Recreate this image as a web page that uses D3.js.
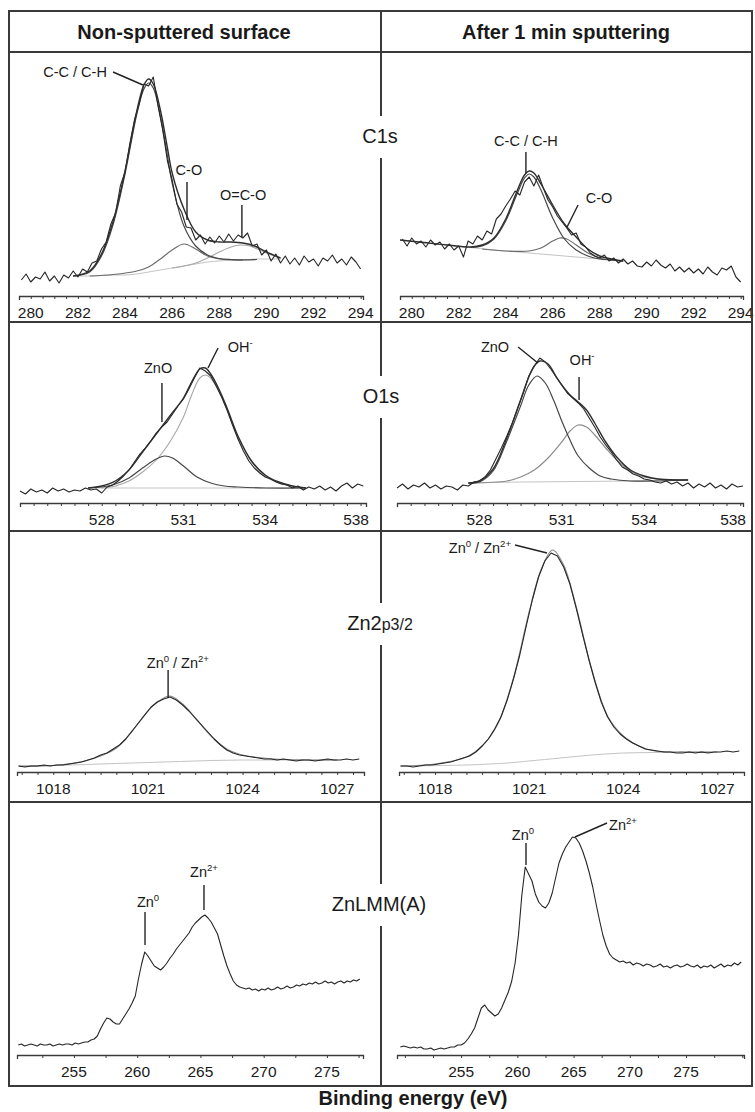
<!DOCTYPE html>
<html><head><meta charset="utf-8">
<script src="https://cdn.jsdelivr.net/npm/d3@7"></script>
<style>
body{margin:0;background:#fff}
svg{display:block}
text{font-family:"Liberation Sans",Arial,sans-serif;fill:#1a1a1a}
</style>
</head><body>
<svg id="c" width="755" height="1112"></svg>
<script>
// ================= DATA =================
// tick labels
const c1sTickLabels = [280,282,284,286,288,290,292,294];
const o1sTickLabels = [528,531,534,538];
const zn2pTickLabels = [1018,1021,1024,1027];
const lmmTickLabels = [255,260,265,270,275];

// energy grids of the measured spectra: [first energy, step] (eV)
const c1sGrid = [279.6, 0.2];
const o1sGrid = [525.0, 0.2];
const zn2pGrid = [1016.9, 0.2];
const lmmLeftGrid = [250.6, 0.25];
const lmmRightGrid = [249.6, 0.3];

// measured intensities (a.u.)
const c1sLeftRaw = [16,22,14,19,17,24,15,20,13,21, 18,25,19,27,24,33,35,47,54,72,
  83,110,124,152,176,192,212,210,219,190, 166,135,116,92,84,69,68,56,61,52,
  59,53,60,54,62,55,61,58,63,50, 52,41,46,35,42,33,40,32,38,31,
  40,34,37,30,38,35,41,33,37,31, 39,34,27];
const c1sRightRaw = [57,50,58,52,55,49,56,51,54,47, 52,46,50,39,55,52,60,56,65,62,
  77,82,90,97,105,101,114,119,110,121, 108,96,89,80,74,68,61,63,52,49,
  43,40,38,41,35,38,33,37,32,35, 30,29,34,30,36,31,28,32,25,29,
  24,28,23,27,22,29,24,21,28,26, 30,19,14];
const o1sLeftRaw = [12,9,14,11,13,10,15,12,14,11, 13,12,15,13,14,10,16,18,22,27,
  33,41,49,55,62,70,76,81,89,97, 104,114,125,135,132,127,117,106,93,78,
  64,52,42,35,30,26,24,21,19,18, 15,17,13,16,14,17,13,16,12,17, 20,15,19,17];
const o1sRightRaw = [15,19,14,18,16,20,15,18,14,17, 16,13,18,17,21,22,26,33,44,55,
  67,80,95,110,127,137,145,141,134,126, 118,110,105,100,94,85,76,66,58,51,
  43,36,33,29,27,24,23,21,20,22, 19,21,17,20,15,19,16,20,15,18, 14,19,16,17];
const zn2pLeftRaw = [6,5,6,6,7,6,7,7,8,9, 10,12,14,17,19,23,27,33,41,49,
  57,65,70,73,75,72,67,61,54,47, 40,33,27,22,19,17,16,15,14,13,
  13,12,13,12,11,12,12,11,12,13, 12,12,13,12,13];
const zn2pRightRaw = [6,6,5,6,7,7,8,9,10,12, 14,16,20,26,33,43,55,72,93,117,
  145,172,195,211,219,216,205,188,164,138, 113,90,70,55,45,38,33,29,26,23,
  22,21,20,20,19,19,20,19,20,19, 20,20,21,20,21];
const lmmLeftRaw = [10,11,9,10,11,10,9,11,10,10, 11,9,10,11,10,11,11,10,12,11,
  12,13,13,15,16,19,26,32,37,36, 33,31,31,36,41,46,52,59,76,91,
  103,99,94,89,87,85,88,92,97,101, 106,110,114,118,122,128,132,135,138,140,
  137,133,127,121,110,99,89,81,74,70, 68,67,66,67,65,66,64,66,65,67,
  65,66,68,66,67,69,67,68,70,69, 71,70,72,71,73,71,72,74,72,73,
  71,73,74,72,74,73,75,74,76];
const lmmRightRaw = [8,9,8,7,8,7,8,6,6,7, 5,6,7,6,7,8,8,10,10,12,
  16,21,27,37,47,50,45,42,39,41, 47,55,63,74,92,120,160,188,181,174,
  161,153,149,147,152,162,177,192,201,208, 213,218,217,212,204,194,182,168,151,135,
  120,109,101,97,95,93,94,92,93,90, 92,91,89,91,90,88,89,91,88,89,
  87,89,90,88,89,91,89,88,90,87, 89,88,90,87,89,91,88,90,89,92, 90,93];

// fitted curves [energy, intensity]
const c1sLeftBg = [[281.8,20],[282.5,20],[283,20.5],[283.5,21],[284,21],[284.5,22],[285,24],[285.5,26],[286,28],[286.5,30],[287,32],[287.5,34],[288,35],[288.5,36],[289,36],[289.5,37],[290,37],[290.6,37]];
const c1sLeftCC = [[281.8,20],[282.5,24],[283,40],[283.5,72],[284,122],[284.5,182],[284.8,207],[285,213],[285.2,208],[285.5,180],[285.8,140],[286,113],[286.5,70],[287,50],[287.5,41],[288,37.5],[288.5,36.5],[289,36.2],[289.6,36.5]];
const c1sLeftCO = [[282.5,20],[283.5,21.5],[284.5,25],[285,29],[285.5,37],[286,46],[286.5,52],[287,47],[287.5,40],[288,37],[288.5,36],[289,36]];
const c1sLeftOCO = [[286,28],[286.5,30],[287,33],[287.5,38],[288,44],[288.5,49],[288.9,51],[289.3,50],[289.7,46],[290.1,42],[290.6,37.5]];
const c1sLeftEnv = [[281.8,20],[282.5,25],[283,42],[283.5,75],[284,125],[284.5,185],[284.8,211],[285,217],[285.2,212],[285.5,186],[285.8,148],[286,123],[286.5,87],[287,64],[287.5,56],[288,54],[288.5,54],[289,53],[289.5,50],[290,44],[290.6,38]];

const c1sRightBg = [[279.5,56],[280.5,53.5],[281.5,51],[282.5,48.5],[283.5,46],[284.5,44],[285.5,42],[286.5,40],[287.5,38],[288.5,36],[289,35]];
const c1sRightCC = [[282.5,48.5],[283,50],[283.5,57],[284,75],[284.5,103],[284.8,118],[285,122],[285.2,119],[285.5,106],[286,78],[286.5,57],[287,46],[287.5,40],[288,37],[288.5,36],[289,35]];
const c1sRightCO = [[283,47],[284,45],[285,45],[285.5,48],[286,55],[286.3,58],[286.6,57],[287,51],[287.5,43],[288,38],[288.5,36],[289,35]];
const c1sRightEnv = [[279.5,56],[280.5,53.5],[281.5,51],[282.5,49],[283,51],[283.5,58],[284,77],[284.5,106],[284.8,121],[285,125],[285.2,123],[285.5,112],[286,91],[286.5,72],[287,59],[287.5,47],[288,40],[288.5,37],[289,35]];

const o1sLeftBg = [[527.5,15],[529,15],[531,15],[533,15],[535.5,15]];
const o1sLeftZnO = [[527.5,15],[528,16],[528.5,19],[529,25],[529.5,35],[530,44],[530.3,47],[530.6,45],[531,37],[531.5,26],[532,20],[532.5,17],[533,16],[534,15],[535.5,15]];
const o1sLeftOH = [[528,15],[528.5,17],[529,22],[529.5,31],[530,43],[530.5,61],[531,86],[531.3,108],[531.6,125],[531.8,128],[532,125],[532.3,112],[532.6,93],[533,66],[533.5,41],[534,27],[534.5,20],[535,17],[535.5,15]];
const o1sLeftEnv = [[527.5,15],[528,17],[528.5,22],[529,33],[529.5,51],[530,69],[530.5,87],[531,105],[531.3,121],[531.6,134],[531.8,135],[532,129],[532.3,114],[532.6,95],[533,67],[533.5,42],[534,28],[534.5,21],[535,17],[535.5,15]];

const o1sRightBg = [[527.6,20],[529.6,21],[531.6,21.5],[533.6,22],[535.6,23]];
const o1sRightZnO = [[527.6,20],[528,21],[528.5,32],[529,62],[529.5,97],[529.8,118],[530.1,127],[530.4,120],[530.7,103],[531,82],[531.3,63],[531.6,47],[532,35],[532.4,27],[532.8,24],[533.5,22],[535.6,23]];
const o1sRightOH = [[527.6,20],[529,22],[529.5,26],[530,33],[530.5,45],[531,61],[531.3,72],[531.6,78],[531.9,76],[532.2,68],[532.6,55],[533,43],[533.5,32],[534,26],[534.5,24],[535.6,23]];
const o1sRightEnv = [[527.6,20],[528,22],[528.5,34],[529,65],[529.5,103],[529.8,126],[530,137],[530.2,142],[530.5,139],[530.8,126],[531,118],[531.3,108],[531.6,101],[531.9,93],[532.2,80],[532.6,61],[533,46],[533.5,33],[534,27],[534.5,24],[535.6,23]];

const zn2pLeftBg = [[1016.9,6],[1018,6.5],[1019,7.5],[1020,8.5],[1021,9.5],[1022,10.5],[1023,11.5],[1024,12],[1025,12],[1026,12],[1027,12]];
const zn2pLeftFit = [[1016.9,6],[1018,6.5],[1019,11],[1019.5,16],[1020,24],[1020.5,41],[1021,61],[1021.3,70],[1021.7,76],[1022.1,68],[1022.5,54],[1023,36],[1023.5,23],[1024,17],[1025,13],[1026,12],[1027,12]];
const zn2pRightBg = [[1016.9,6],[1019,7],[1020.3,9],[1021,11],[1022,14],[1023,17],[1024,19],[1025,19.5],[1026,20],[1026.8,20]];
const zn2pRightFit = [[1016.9,6],[1018,8],[1019,15],[1019.5,26],[1020,48],[1020.5,94],[1021,160],[1021.4,204],[1021.75,222],[1022.1,207],[1022.5,165],[1023,102],[1023.5,56],[1024,36],[1024.5,26],[1025,21],[1026,20],[1027,20]];

// annotations: text parts [string, superscript?], text anchor point and leader line in data units
const c1sLeftNotes = [
  {t:[["C-C / C-H",0]], at:[281.88,219], line:[[283.49,224],[284.76,211]]},
  {t:[["C-O",0]], at:[286.71,121], line:[[286.63,114],[286.63,76]]},
  {t:[["O=C-O",0]], at:[289.01,96], line:[[288.96,91],[288.96,59]]}
];
const c1sRightNotes = [
  {t:[["C-C / C-H",0]], at:[284.86,150], line:[[284.86,144],[284.86,123]]},
  {t:[["C-O",0]], at:[287.97,93], line:[[287.08,91],[286.61,69]]}
];
const o1sLeftNotes = [
  {t:[["ZnO",0]], at:[530.07,130], line:[[530.21,120],[530.21,81]]},
  {t:[["OH",0],["-",1]], at:[533.08,151], line:[[532.27,155],[531.9,135]]}
];
const o1sRightNotes = [
  {t:[["ZnO",0]], at:[528.57,151], line:[[529.41,156],[530.13,140]]},
  {t:[["OH",0],["-",1]], at:[531.74,138], line:[[531.63,126],[531.63,103]]}
];
const zn2pLeftNotes = [
  {t:[["Zn",0],["0",1],[" / Zn",0],["2+",1]], at:[1021.95,104], line:[[1021.64,102],[1021.64,74]]}
];
const zn2pRightNotes = [
  {t:[["Zn",0],["0",1],[" / Zn",0],["2+",1]], at:[1019.43,219], line:[[1020.55,227],[1021.57,219]]}
];
const lmmLeftNotes = [
  {t:[["Zn",0],["0",1]], at:[260.86,148], line:[[260.62,143],[260.62,110]]},
  {t:[["Zn",0],["2+",1]], at:[265.28,178], line:[[265.28,170],[265.28,145]]}
];
const lmmRightNotes = [
  {t:[["Zn",0],["0",1]], at:[260.5,215], line:[[260.77,212],[260.77,190]]},
  {t:[["Zn",0],["2+",1]], at:[269.39,225], line:[[267.97,232],[265.12,218]]}
];

const rowLabels = ["C1s","O1s","Zn2p3/2","ZnLMM(A)"];
const columnTitles = ["Non-sputtered surface","After 1 min sputtering"];
const axisTitle = "Binding energy (eV)";

// ================= LAYOUT / STYLE =================
const layout = {
  c1s: {axisY:296, top:52, L:[19,363], R:[400,743], labelY:143},
  o1s: {axisY:503, top:322, L:[20,366], R:[397,743], labelY:403},
  zn2p:{axisY:772, top:531, L:[17,364], R:[399,744], labelY:630},
  lmm: {axisY:1055, top:802, L:[17,363], R:[397,744], labelY:911}
};
const styles = {
  raw:  {c:"#262626", w:1.1},
  env:  {c:"#2e2e2e", w:1.4},
  dark: {c:"#474747", w:1.2},
  mid:  {c:"#6a6a6a", w:1.1},
  gray: {c:"#8c8c8c", w:1.2},
  light:{c:"#a6a6a6", w:1.1},
  bg:   {c:"#c4c4c4", w:1.0}
};

const panels = [
  {row:"c1s", side:"L", domain:[279.5,294.1], labels:c1sTickLabels, minor:0.5, grid:c1sGrid, raw:c1sLeftRaw,
   curves:[[c1sLeftBg,"bg"],[c1sLeftOCO,"light"],[c1sLeftCO,"mid"],[c1sLeftCC,"dark"]], env:[c1sLeftEnv,"env"], notes:c1sLeftNotes},
  {row:"c1s", side:"R", domain:[279.5,294.1], labels:c1sTickLabels, minor:0.5, grid:c1sGrid, raw:c1sRightRaw,
   curves:[[c1sRightBg,"bg"],[c1sRightCO,"mid"],[c1sRightCC,"dark"]], env:[c1sRightEnv,"env"], notes:c1sRightNotes},
  {row:"o1s", side:"L", domain:[525,537.7], labels:o1sTickLabels, minor:0.5, grid:o1sGrid, raw:o1sLeftRaw,
   curves:[[o1sLeftBg,"bg"],[o1sLeftOH,"light"],[o1sLeftZnO,"dark"]], env:[o1sLeftEnv,"env"], notes:o1sLeftNotes},
  {row:"o1s", side:"R", domain:[525,537.6], labels:o1sTickLabels, minor:0.5, grid:o1sGrid, raw:o1sRightRaw,
   curves:[[o1sRightBg,"bg"],[o1sRightOH,"gray"],[o1sRightZnO,"dark"]], env:[o1sRightEnv,"env"], notes:o1sRightNotes},
  {row:"zn2p", side:"L", domain:[1016.85,1027.85], labels:zn2pTickLabels, minor:0.5, grid:zn2pGrid, raw:zn2pLeftRaw,
   curves:[[zn2pLeftBg,"bg"],[zn2pLeftFit,"gray"]], env:null, notes:zn2pLeftNotes},
  {row:"zn2p", side:"R", domain:[1016.85,1027.85], labels:zn2pTickLabels, minor:0.5, grid:zn2pGrid, raw:zn2pRightRaw,
   curves:[[zn2pRightBg,"bg"],[zn2pRightFit,"gray"]], env:null, notes:zn2pRightNotes},
  {row:"lmm", side:"L", domain:[250.5,277.85], labels:lmmTickLabels, minor:2.5, grid:lmmLeftGrid, raw:lmmLeftRaw,
   curves:[], env:null, notes:lmmLeftNotes},
  {row:"lmm", side:"R", domain:[249.3,280.15], labels:lmmTickLabels, minor:2.5, grid:lmmRightGrid, raw:lmmRightRaw,
   curves:[], env:null, notes:lmmRightNotes}
];

// ================= DRAW =================
const svg = d3.select("#c");
const frame = {x0:9, x1:752, y0:11, y1:1086, head:52, divX:381};
const lineCol = "#3a3a3a";

svg.append("rect").attr("width",755).attr("height",1112).attr("fill","#fff");

function addText(g, parts, x, y, size, anchor){
  const t = g.append("text").attr("x",x).attr("y",y).attr("text-anchor",anchor||"middle").attr("font-size",size);
  let up = false;
  parts.forEach(([s,sup])=>{
    const sp = t.append("tspan").text(s);
    if(sup && !up){ sp.attr("dy",-size*0.42).attr("font-size",size*0.66); up=true; }
    else if(sup){ sp.attr("font-size",size*0.66); }
    else if(!sup && up){ sp.attr("dy",size*0.42); up=false; }
  });
  return t;
}

panels.forEach(p=>{
  const L = layout[p.row];
  const x = d3.scaleLinear().domain(p.domain).range(L[p.side]);
  const y = d3.scaleLinear().domain([0, L.axisY - L.top]).range([L.axisY, L.top]);
  const g = svg.append("g");

  // axis with minor ticks
  const d0 = p.domain[0], d1 = p.domain[1];
  const minors = d3.range(Math.ceil(d0/p.minor)*p.minor, d1+1e-9, p.minor);
  const ax = d3.axisBottom(x).tickValues(minors).tickSize(3).tickSizeOuter(4).tickFormat("");
  const ag = g.append("g").attr("transform",`translate(0,${L.axisY})`).call(ax);
  ag.select(".domain").attr("stroke",lineCol).attr("stroke-width",1.3);
  ag.selectAll(".tick line").attr("stroke",lineCol).attr("stroke-width",1);

  p.labels.forEach(v=>{
    const over = v > d1;
    g.append("text").attr("x", x(Math.min(v,d1)) + (over?3:0)).attr("y", L.axisY+22)
      .attr("text-anchor", over?"end":"middle").attr("font-size",15.5).text(v);
  });

  const line = d3.line().x(d=>x(d[0])).y(d=>y(d[1])).curve(d3.curveCatmullRom.alpha(0.5));
  p.curves.forEach(([data,st])=>{
    g.append("path").attr("d",line(data)).attr("fill","none")
      .attr("stroke",styles[st].c).attr("stroke-width",styles[st].w);
  });

  const rawPts = p.raw.map((v,i)=>[p.grid[0]+i*p.grid[1], v]);
  const rawLine = d3.line().x(d=>x(d[0])).y(d=>y(d[1]));
  g.append("path").attr("d",rawLine(rawPts)).attr("fill","none")
    .attr("stroke",styles.raw.c).attr("stroke-width",styles.raw.w).attr("stroke-linejoin","round");

  if(p.env){
    g.append("path").attr("d",line(p.env[0])).attr("fill","none")
      .attr("stroke",styles.env.c).attr("stroke-width",styles.env.w);
  }

  p.notes.forEach(n=>{
    g.append("line").attr("x1",x(n.line[0][0])).attr("y1",y(n.line[0][1]))
      .attr("x2",x(n.line[1][0])).attr("y2",y(n.line[1][1]))
      .attr("stroke","#222").attr("stroke-width",1.4);
    addText(g, n.t, x(n.at[0]), y(n.at[1]), 14.5, "middle");
  });
});

// frame
const fg = svg.append("g").attr("stroke",lineCol).attr("stroke-width",2).attr("fill","none");
fg.append("rect").attr("x",frame.x0).attr("y",frame.y0).attr("width",frame.x1-frame.x0).attr("height",frame.y1-frame.y0);
[frame.head, 322, 531, 802].forEach(yy=>{
  fg.append("line").attr("x1",frame.x0).attr("x2",frame.x1).attr("y1",yy).attr("y2",yy);
});
// vertical divider with gaps for row labels
const rowKeys = ["c1s","o1s","zn2p","lmm"];
let yStart = frame.y0;
rowKeys.forEach(k=>{
  const ly = layout[k].labelY;
  fg.append("line").attr("x1",frame.divX).attr("x2",frame.divX).attr("y1",yStart).attr("y2",ly-27);
  yStart = ly+15;
});
fg.append("line").attr("x1",frame.divX).attr("x2",frame.divX).attr("y1",yStart).attr("y2",frame.y1);

// column titles
svg.append("text").attr("x",184).attr("y",39).attr("text-anchor","middle").attr("font-size",20)
  .attr("font-weight","bold").text(columnTitles[0]);
svg.append("text").attr("x",566).attr("y",39).attr("text-anchor","middle").attr("font-size",20)
  .attr("font-weight","bold").text(columnTitles[1]);

// row labels
const rl = svg.append("g");
rl.append("text").attr("x",380).attr("y",layout.c1s.labelY).attr("text-anchor","middle").attr("font-size",20).text(rowLabels[0]);
rl.append("text").attr("x",381).attr("y",layout.o1s.labelY).attr("text-anchor","middle").attr("font-size",20).text(rowLabels[1]);
const zt = rl.append("text").attr("x",380).attr("y",layout.zn2p.labelY).attr("text-anchor","middle").attr("font-size",20);
zt.append("tspan").text(rowLabels[2].slice(0,3));
zt.append("tspan").attr("font-size",16).text(rowLabels[2].slice(3));
rl.append("text").attr("x",379).attr("y",layout.lmm.labelY).attr("text-anchor","middle").attr("font-size",20).text(rowLabels[3]);

// x-axis title
svg.append("text").attr("x",413).attr("y",1105).attr("text-anchor","middle").attr("font-size",20)
  .attr("font-weight","bold").text(axisTitle);
</script>
</body></html>
